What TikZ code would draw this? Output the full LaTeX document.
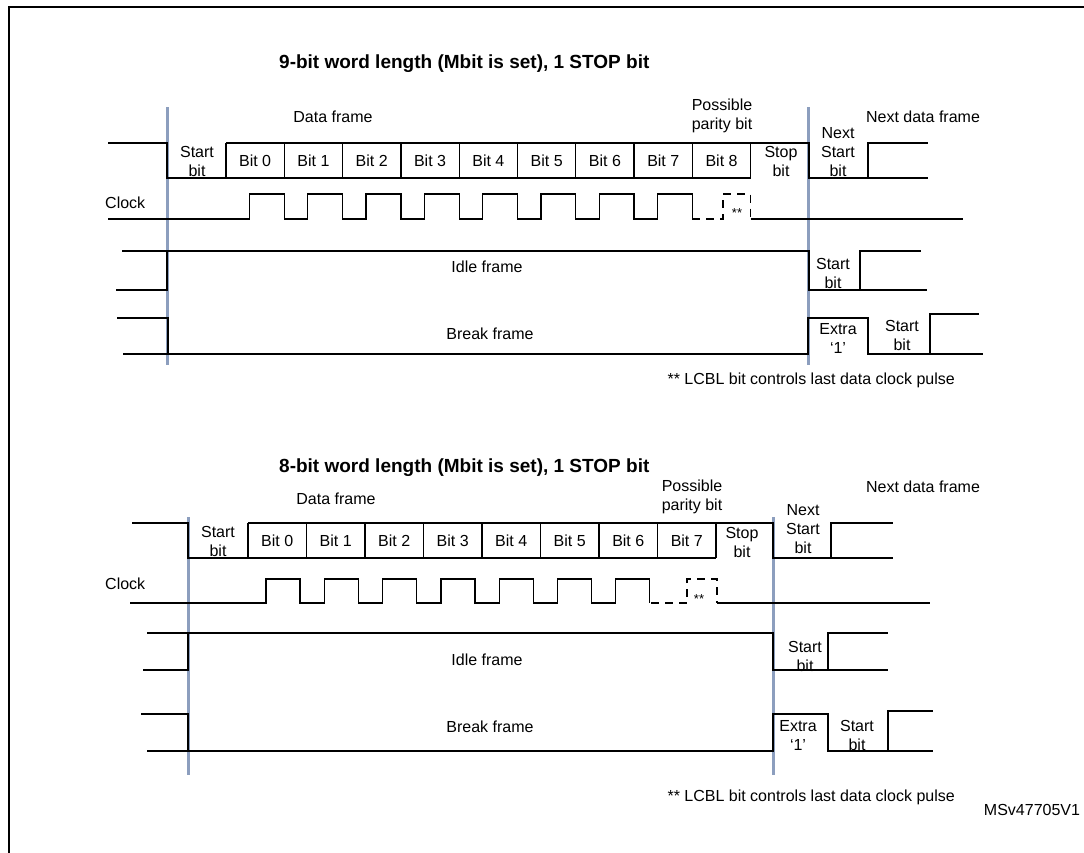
\documentclass[tikz,border=0pt]{standalone}
\usepackage{fontspec}
\setmainfont{Liberation Sans}
\usepackage{tikz}
\usetikzlibrary{positioning}
\definecolor{GuideBlue}{HTML}{8C9EBE}

\begin{document}
\begin{tikzpicture}[x=1pt,y=-1pt,
  wave/.style={line width=1.3pt,line join=miter},
  dashwave/.style={wave,dash pattern=on 8pt off 6pt},
  guide/.style={draw=GuideBlue,line width=3pt},
  lbl/.style={font=\fontsize{16}{19}\selectfont,align=center,inner sep=0pt},
  ttl/.style={font=\fontsize{19}{22}\selectfont\bfseries,inner sep=0pt},
  star/.style={font=\fontsize{13}{14}\selectfont,inner sep=0pt}
]
\useasboundingbox (0,0) rectangle (1084,852);
\draw[line width=2pt] (1090,7) -| (9,860);

% 9-bit word
\node[ttl,anchor=west] (title9) at (279,64) {9-bit word length (Mbit is set), 1 STOP bit};
\draw[guide] (167,107) -- (167,365);
\draw[guide] (808,107) -- (808,365);

\node[lbl] (dframe9) at (333,117) {Data frame};
\node[lbl] (parity9) at (722,116) {Possible\\parity bit};
\node[lbl] (ndframe9) at (923,117) {Next data frame};
\node[lbl] (start9) at (197,161) {Start\\bit};
\foreach \i in {0,...,8}
  \node[lbl] (bit9-\i) at ({226+58.3*(\i+0.5)},161) {Bit \i};
\node[lbl] (stop9) at (781,161) {Stop\\bit};
\node[lbl] (nstart9) at (838,152) {Next\\Start\\bit};
\draw[wave] (108,143) -| (167,178) -- (750.7,178);
\draw[wave] (226,143) -- (809,143) -- (809,178) -- (928,178);
\draw[wave] (868,178) |- (928,143);
\foreach \i in {0,...,9}
  \draw[wave] ({226+58.3*\i},143) -- ({226+58.3*\i},178);

\node[lbl,anchor=west] (clock9) at (105,203) {Clock};
\draw[wave] (108,219) \foreach \i in {0,...,7}{ -| ({249.5+58.3*\i},194) -| ({284.3+58.3*\i},219) };
\draw[dashwave] (692.4,219) -| (723,194) -| (750.7,219);
\draw[wave] (750.7,219) -- (963,219);
\node[star] (lcbl9) at (737,213) {**};

\draw[wave] (122,251) -- (809,251) -- (809,290) -- (927,290);
\draw[wave] (116,290) -| (167,251);
\draw[wave] (860,290) |- (921,251);
\node[lbl] (idle9) at (487,267) {Idle frame};
\node[lbl] (istart9) at (833,273) {Start\\bit};

\draw[wave] (117,318) -| (168,354);
\draw[wave] (123,354) -- (808,354) -- (808,318) -- (868,318) -- (868,354) -- (983,354);
\draw[wave] (930,354) |- (979,314);
\node[lbl] (break9) at (490,334) {Break frame};
\node[lbl] (extra9) at (838,338) {Extra\\`1'};
\node[lbl] (bstart9) at (902,335) {Start\\bit};
\node[lbl,anchor=east] (note9) at (955,380) {** LCBL bit controls last data clock pulse};

% 8-bit word
\node[ttl,anchor=west] (title8) at (279,468) {8-bit word length (Mbit is set), 1 STOP bit};
\draw[guide] (188,517) -- (188,775);
\draw[guide] (773,517) -- (773,775);

\node[lbl] (dframe8) at (336,499) {Data frame};
\node[lbl] (parity8) at (692,497) {Possible\\parity bit};
\node[lbl] (ndframe8) at (923,487) {Next data frame};
\node[lbl] (start8) at (218,541) {Start\\bit};
\foreach \i in {0,...,7}
  \node[lbl] (bit8-\i) at ({248+58.5*(\i+0.5)},541) {Bit \i};
\node[lbl] (stop8) at (742,542) {Stop\\bit};
\node[lbl] (nstart8) at (803,529) {Next\\Start\\bit};
\draw[wave] (132,523) -| (188,558) -- (716,558);
\draw[wave] (248,523) -- (773,523) -- (773,558) -- (893,558);
\draw[wave] (831,558) |- (893,523);
\foreach \i in {0,...,8}
  \draw[wave] ({248+58.5*\i},523) -- ({248+58.5*\i},558);

\node[lbl,anchor=west] (clock8) at (105,584) {Clock};
\draw[wave] (130,603) \foreach \i in {0,...,6}{ -| ({266+58.3*\i},579) -| ({300+58.3*\i},603) };
\draw[dashwave] (651,603) -| (687,579) -| (717,603);
\draw[wave] (717,603) -- (930,603);
\node[star] (lcbl8) at (699,599) {**};

\draw[wave] (147,633) -- (773,633) -- (773,670) -- (888,670);
\draw[wave] (143,670) -| (188,633);
\draw[wave] (828,670) |- (888,633);
\node[lbl] (idle8) at (487,660) {Idle frame};
\node[lbl] (istart8) at (805,656) {Start\\bit};

\draw[wave] (141,714) -| (188,751);
\draw[wave] (147,751) -- (773,751) -- (773,714) -- (828,714) -- (828,751) -- (933,751);
\draw[wave] (888,751) |- (933,711);
\node[lbl] (break8) at (490,727) {Break frame};
\node[lbl] (extra8) at (798,735) {Extra\\`1'};
\node[lbl] (bstart8) at (857,735) {Start\\bit};
\node[lbl,anchor=east] (note8) at (955,797) {** LCBL bit controls last data clock pulse};
\node[lbl] (ref) at (1032,810) {MSv47705V1};
\end{tikzpicture}
\end{document}
